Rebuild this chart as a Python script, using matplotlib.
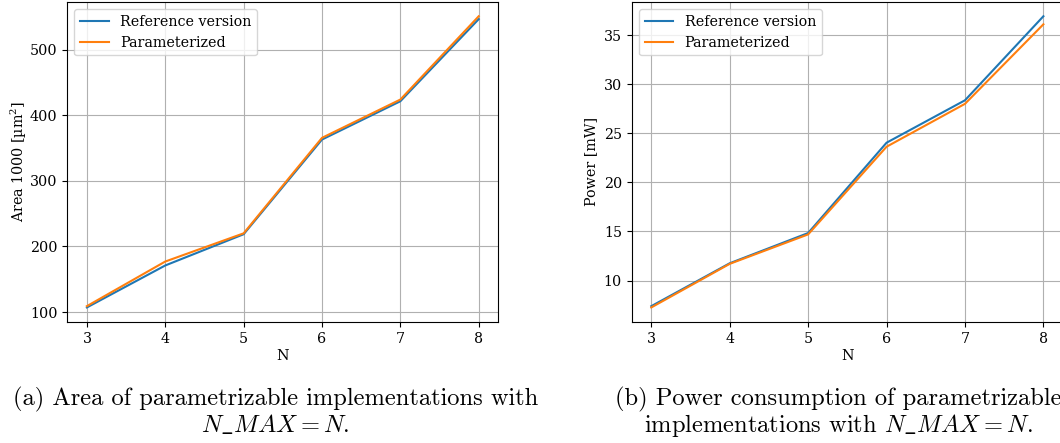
import matplotlib
matplotlib.use("Agg")
import matplotlib.pyplot as plt

N = [3, 4, 5, 6, 7, 8]
area_ref = [107, 171, 218.6, 363, 421.4, 546.6]
area_par = [109, 177, 220, 365.6, 424, 551]
power_ref = [7.39, 11.76, 14.84, 24.04, 28.36, 36.92]
power_par = [7.26, 11.7, 14.7, 23.63, 28.0, 36.1]
labels = ["Reference version", "Parameterized"]
xlabel = "N"
ylabel_a = "Area 1000 [µm$^2$]"
ylabel_b = "Power [mW]"
caption_a = ["(a) Area of parametrizable implementations with", r"$N\_MAX = N$."]
caption_b = ["(b) Power consumption of parametrizable", r"implementations with $N\_MAX = N$."]

plt.rcParams["font.family"] = "DejaVu Serif"
plt.rcParams["mathtext.fontset"] = "dejavuserif"
plt.rcParams["font.size"] = 10.3

fig = plt.figure(figsize=(10.6, 4.43), dpi=100)
W, H = 1060, 443

def axrect(x0, x1, ytop, ybot):
    return [x0 / W, 1 - ybot / H, (x1 - x0) / W, (ybot - ytop) / H]

ax1 = fig.add_axes(axrect(67.3, 498.3, 1.7, 322))
ax2 = fig.add_axes(axrect(631.7, 1063, 1.7, 322))

for ax, ref, par, yl, lp in [(ax1, area_ref, area_par, ylabel_a, 1.0),
                             (ax2, power_ref, power_par, ylabel_b, 4.0)]:
    ax.plot(N, ref, color="tab:blue", label=labels[0])
    ax.plot(N, par, color="tab:orange", label=labels[1])
    ax.grid(True)
    ax.set_xlabel(xlabel, labelpad=2)
    ax.set_ylabel(yl, labelpad=lp)
    ax.legend(loc="upper left")
    ax.set_xticks(N)

ax1.set_yticks([100, 200, 300, 400, 500])
ax2.set_yticks([10, 15, 20, 25, 30, 35])

cap_kw = dict(ha="center", va="baseline", fontsize=17.6, family="cmr10")
fig.text(275.5 / W, 1 - 405 / H, caption_a[0], **cap_kw)
fig.text(275.5 / W, 1 - 432 / H, caption_a[1], math_fontfamily="cm", **cap_kw)
fig.text(838 / W, 1 - 405 / H, caption_b[0], **cap_kw)
fig.text(838 / W, 1 - 432 / H, caption_b[1], math_fontfamily="cm", **cap_kw)

fig.savefig("out.png", dpi=100)
